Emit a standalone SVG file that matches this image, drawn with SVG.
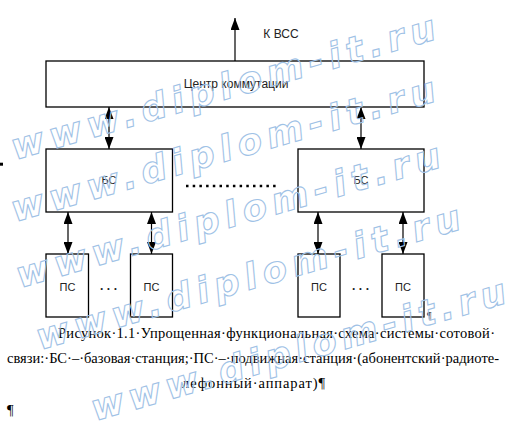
<svg xmlns="http://www.w3.org/2000/svg" width="529" height="428" viewBox="0 0 529 428">
<style>
.box{fill:#fff;stroke:#000;stroke-width:1.3}
.lbl{font-family:"Liberation Sans",Arial,sans-serif;font-size:12px;fill:#222}
.sm{font-size:11px}
.ln{stroke:#000;stroke-width:1.2;fill:none}
.cap{font-family:"Liberation Serif","Times New Roman",serif;font-size:14.5px;fill:#000}
.wm{font-family:"DejaVu Sans",sans-serif;font-weight:bold;font-style:italic;font-size:36px;fill:none;stroke:#9fc2e6;stroke-width:1.1}
</style>
<defs>
<marker id="ah" markerUnits="userSpaceOnUse" markerWidth="12" markerHeight="9" refX="12" refY="4.5" orient="auto-start-reverse">
<path d="M0,0 L12,4.5 L0,9 z" fill="#000"/>
</marker>
</defs>
<rect width="529" height="428" fill="#fff"/>

<g id="center">
<rect class="box" x="46" y="61" width="378" height="46"/>
<text class="lbl" x="236" y="88" text-anchor="middle">Центр коммутации</text>
</g>
<text id="kvss" class="lbl" x="281" y="38" text-anchor="middle">К ВСС</text>

<g id="bs1">
<rect class="box" x="46" y="149" width="126.5" height="63"/>
<text class="lbl sm" x="109" y="183.5" text-anchor="middle">БС</text>
</g>
<g id="bs2">
<rect class="box" x="298" y="149" width="126" height="63"/>
<text class="lbl sm" x="361" y="183.5" text-anchor="middle">БС</text>
</g>

<g id="ps1">
<rect class="box" x="46" y="254" width="42.5" height="63"/>
<text class="lbl sm" x="67.5" y="291" text-anchor="middle">ПС</text>
</g>
<g id="ps2">
<rect class="box" x="130.5" y="254" width="42" height="63"/>
<text class="lbl sm" x="151.5" y="291" text-anchor="middle">ПС</text>
</g>
<g id="ps3">
<rect class="box" x="298" y="254" width="42" height="63"/>
<text class="lbl sm" x="319" y="291" text-anchor="middle">ПС</text>
</g>
<g id="ps4">
<rect class="box" x="382" y="254" width="42" height="63"/>
<text class="lbl sm" x="403" y="291" text-anchor="middle">ПС</text>
</g>

<g id="connectors">
<line class="ln" x1="235" y1="61" x2="235" y2="18" marker-end="url(#ah)"/>
<line class="ln" x1="109" y1="107" x2="109" y2="149" marker-start="url(#ah)" marker-end="url(#ah)"/>
<line class="ln" x1="361" y1="107" x2="361" y2="149" marker-start="url(#ah)" marker-end="url(#ah)"/>
<line class="ln" x1="68" y1="212" x2="68" y2="254" marker-start="url(#ah)" marker-end="url(#ah)"/>
<line class="ln" x1="151.5" y1="212" x2="151.5" y2="254" marker-start="url(#ah)" marker-end="url(#ah)"/>
<line class="ln" x1="318" y1="212" x2="318" y2="254" marker-start="url(#ah)" marker-end="url(#ah)"/>
<line class="ln" x1="403" y1="212" x2="403" y2="254" marker-start="url(#ah)" marker-end="url(#ah)"/>
<line x1="186" y1="186" x2="278" y2="186" stroke="#000" stroke-width="2.5" stroke-dasharray="2.5 4.2"/>
</g>

<text class="lbl" x="100" y="289.5" font-weight="bold" font-size="20" textLength="17" lengthAdjust="spacing">...</text>
<text class="lbl" x="352" y="289.5" font-weight="bold" font-size="20" textLength="17" lengthAdjust="spacing">...</text>

<rect x="0" y="162.7" width="3" height="3" fill="#000"/>
<text x="427" y="319" font-family="Liberation Serif,serif" font-size="10" fill="#333">¶</text>

<g id="caption">
<text class="cap" x="58" y="338" textLength="437" lengthAdjust="spacing">Рисунок·1.1·Упрощенная·функциональная·схема·системы·сотовой·</text>
<text class="cap" x="7" y="363" textLength="492" lengthAdjust="spacing">связи:·БС·–·базовая·станция;·ПС·–·подвижная·станция·(абонентский·радиоте-</text>
<text class="cap" x="182" y="388" textLength="143" lengthAdjust="spacing">лефонный·аппарат)¶</text>
<text class="cap" x="7" y="415">¶</text>
</g>

<g id="watermark">
<text class="wm" transform="translate(15,160) rotate(-16)" textLength="440" lengthAdjust="spacing">www.diplom-it.ru</text>
<text class="wm" transform="translate(15,222) rotate(-16)" textLength="440" lengthAdjust="spacing">www.diplom-it.ru</text>
<text class="wm" transform="translate(20,288) rotate(-16)" textLength="440" lengthAdjust="spacing">www.diplom-it.ru</text>
<text class="wm" transform="translate(40,350) rotate(-16)" textLength="440" lengthAdjust="spacing">www.diplom-it.ru</text>
<text class="wm" transform="translate(95,421) rotate(-16)" textLength="430" lengthAdjust="spacing">www.diplom-it.ru</text>
</g>
</svg>
